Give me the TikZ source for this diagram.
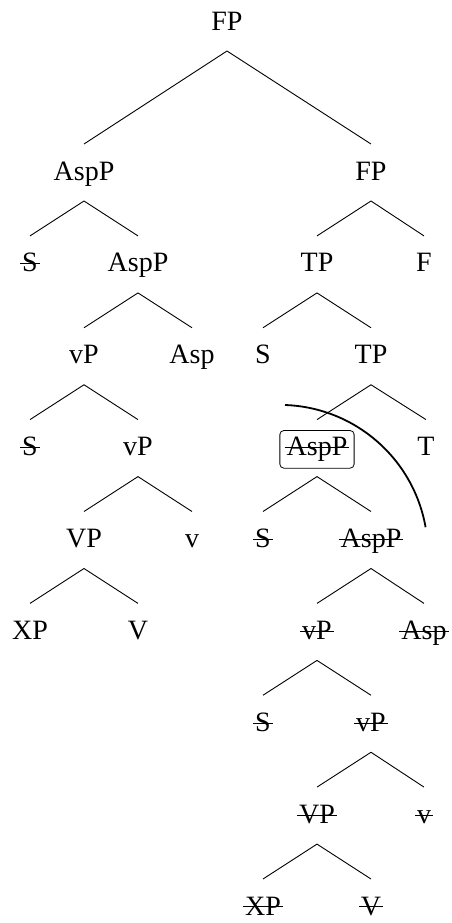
\documentclass[tikz,border=0pt]{standalone}
\usepackage{fontspec}
\setmainfont{Liberation Serif}
\newcommand{\strk}[1]{\setbox0\hbox{#1}\rlap{\kern-1pt\rule[0.27em]{\dimexpr\wd0+2pt\relax}{0.5pt}}\box0}
\begin{document}
\begin{tikzpicture}[x=0.5pt,y=-0.5pt,
  lbl/.style={anchor=base,inner sep=0pt,font=\fontsize{14}{16}\selectfont},
  boxed/.style={draw,rounded corners=2pt,inner xsep=3.4pt,inner ysep=3.3pt},
  branch/.style={line width=0.45pt},
  movearc/.style={line width=0.9pt}]
\useasboundingbox (0,0) rectangle (451,923);
% levels
\def\Lz{30}\def\La{180}\def\Lb{271.9}\def\Lc{363.75}\def\Ld{455.6}
\def\Le{547.5}\def\Lf{639.4}\def\Lg{731.25}\def\Lh{823.1}\def\Li{915}
\node[lbl] (fp0) at (227,\Lz) {FP};
\node[lbl] (a1) at (84,\La) {AspP};
\node[lbl] (f1) at (371,\La) {FP};
% left subtree
\node[lbl] (s2) at (30,\Lb) {\strk{S}};
\node[lbl] (a2) at (138,\Lb) {AspP};
\node[lbl] (v3) at (84,\Lc) {vP};
\node[lbl] (asp3) at (192,\Lc) {Asp};
\node[lbl] (s4) at (30,\Ld) {\strk{S}};
\node[lbl] (v4) at (138,\Ld) {vP};
\node[lbl] (vp5) at (84,\Le) {VP};
\node[lbl] (lv5) at (192,\Le) {v};
\node[lbl] (xp6) at (30,\Lf) {XP};
\node[lbl] (V6) at (138,\Lf) {V};
% right subtree
\node[lbl] (tp2) at (317,\Lb) {TP};
\node[lbl] (F2) at (424,\Lb) {F};
\node[lbl] (s3r) at (263,\Lc) {S};
\node[lbl] (tp3) at (371,\Lc) {TP};
\node[lbl,boxed] (ab4) at (317,\Ld) {\strk{AspP}};
\node[lbl] (t4) at (426,\Ld) {T};
\node[lbl] (s5r) at (263,\Le) {\strk{S}};
\node[lbl] (a5r) at (371,\Le) {\strk{AspP}};
\node[lbl] (v6r) at (317,\Lf) {\strk{vP}};
\node[lbl] (asp6r) at (424,\Lf) {\strk{Asp}};
\node[lbl] (s7r) at (263,\Lg) {\strk{S}};
\node[lbl] (v7r) at (371,\Lg) {\strk{vP}};
\node[lbl] (vp8r) at (317,\Lh) {\strk{VP}};
\node[lbl] (lv8r) at (424,\Lh) {\strk{v}};
\node[lbl] (xp9r) at (263,\Li) {\strk{XP}};
\node[lbl] (V9r) at (371,\Li) {\strk{V}};
\foreach \p/\c in {fp0/a1,fp0/f1,a1/s2,a1/a2,a2/v3,a2/asp3,v3/s4,v3/v4,v4/vp5,v4/lv5,vp5/xp6,vp5/V6,
  f1/tp2,f1/F2,tp2/s3r,tp2/tp3,tp3/ab4,tp3/t4,ab4/s5r,ab4/a5r,a5r/v6r,a5r/asp6r,v6r/s7r,v6r/v7r,v7r/vp8r,v7r/lv8r,vp8r/xp9r,vp8r/V9r}
  \draw[branch] ([yshift=-10.5pt]\p.base) -- ([yshift=18pt]\c.base);
\coordinate (arcstart) at (285,405);
\draw[movearc] (arcstart) arc[start angle=88,end angle=10,radius=74pt];
\end{tikzpicture}
\end{document}
